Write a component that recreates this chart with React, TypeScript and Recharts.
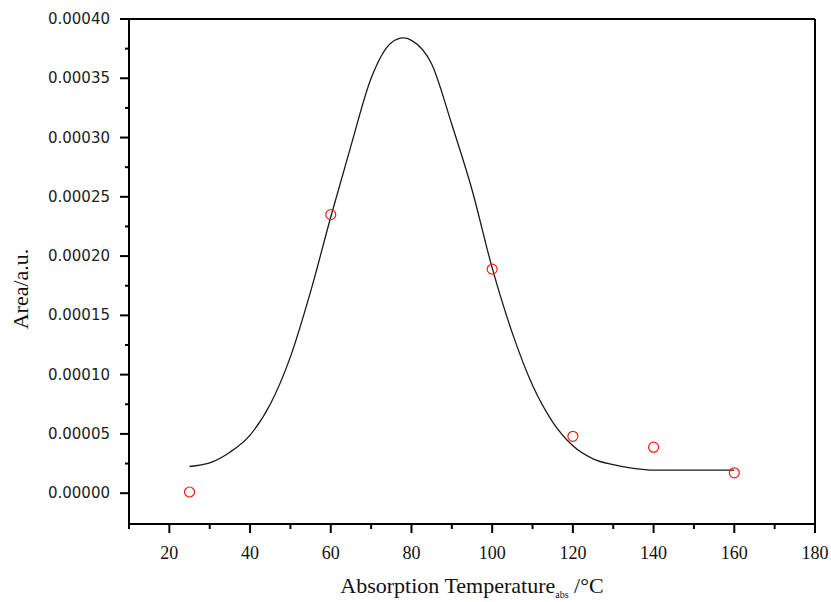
import { ComposedChart, Line, Scatter, XAxis, YAxis, ReferenceLine } from "recharts";

// fitted curve
const curveTemp = [25, 30, 35, 40, 45, 50, 55, 60, 65, 70, 75, 78, 80, 85, 90, 95, 100, 105, 110, 115, 120, 125, 130, 135, 140, 150, 160];
const curveArea = [
  0.0000225, 0.0000255, 0.0000345, 0.000049, 0.000075, 0.000115, 0.00017, 0.000233, 0.000293, 0.00035, 0.00038,
  0.000384, 0.000382, 0.000362, 0.000311, 0.000256, 0.00019, 0.000135, 0.000091, 0.00006, 0.00004, 0.000029,
  0.000024, 0.000021, 0.0000195, 0.0000195, 0.0000195,
];

// measured points
const pointTemp = [25, 60, 100, 120, 140, 160];
const pointArea = [0.000001, 0.000235, 0.000189, 0.000048, 0.0000388, 0.0000172];

const xTicks = [10, 20, 30, 40, 50, 60, 70, 80, 90, 100, 110, 120, 130, 140, 150, 160, 170, 180];
const yTicks = [
  0, 0.000025, 0.00005, 0.000075, 0.0001, 0.000125, 0.00015, 0.000175, 0.0002, 0.000225, 0.00025, 0.000275,
  0.0003, 0.000325, 0.00035, 0.000375, 0.0004,
];

const curve = curveTemp.map((t, i) => ({ x: t, y: curveArea[i] }));
const points = pointTemp.map((t, i) => ({ x: t, y: pointArea[i] }));

const serif = "'Liberation Serif', 'Times New Roman', serif";
const sans = "'DejaVu Sans', Tahoma, sans-serif";

function XTick(props: any) {
  const { x, y, payload } = props;
  const major = payload.value % 20 === 0;
  return (
    <g>
      <line x1={x} y1={y} x2={x} y2={y + (major ? 9 : 5)} stroke="#000" strokeWidth={2} />
      {major && (
        <text x={x} y={y + 35} textAnchor="middle" fontFamily={serif} fontSize={18} fill="#111">
          {payload.value}
        </text>
      )}
    </g>
  );
}

function YTick(props: any) {
  const { x, y, payload } = props;
  const major = Math.round(payload.value / 0.000025) % 2 === 0;
  return (
    <g>
      <line x1={x - (major ? 9 : 4)} y1={y} x2={x} y2={y} stroke="#000" strokeWidth={2} />
      {major && (
        <text x={x - 19} y={y + 5} textAnchor="end" fontFamily={sans} fontSize={15} fill="#222">
          {payload.value.toFixed(5)}
        </text>
      )}
    </g>
  );
}

function RingDot(props: any) {
  const { cx, cy } = props;
  return <circle cx={cx} cy={cy} r={5} fill="none" stroke="#ff1a1a" strokeWidth={1.2} />;
}

function XLabel(props: any) {
  const { viewBox } = props;
  const cx = viewBox.x + viewBox.width / 2;
  return (
    <text x={cx} y={593} textAnchor="middle" fontFamily={serif} fontSize={22} fill="#111">
      Absorption Temperature
      <tspan fontSize={10} dy={5}>abs</tspan>
      <tspan dy={-5}> /°C</tspan>
    </text>
  );
}

function YLabel() {
  return (
    <text
      x={28}
      y={289}
      transform="rotate(-90 28 289)"
      textAnchor="middle"
      fontFamily={serif}
      fontSize={22}
      fill="#111"
    >
      Area/a.u.
    </text>
  );
}

export default function App() {
  return (
    <div style={{ width: 831, height: 602, background: "#fff" }}>
      <style>{`body{margin:0;}`}</style>
      <ComposedChart width={831} height={602} margin={{ top: 19, right: 16, left: 0, bottom: 0 }}>
        <XAxis
          type="number"
          dataKey="x"
          domain={[10, 180]}
          ticks={xTicks}
          interval={0}
          tickSize={0}
          tickMargin={0}
          tick={<XTick />}
          height={78}
          axisLine={{ stroke: "#000", strokeWidth: 2 }}
          allowDataOverflow
          label={<XLabel />}
        />
        <YAxis
          type="number"
          dataKey="y"
          domain={[-0.000026, 0.0004]}
          ticks={yTicks}
          interval={0}
          tickSize={0}
          tickMargin={0}
          tick={<YTick />}
          width={129}
          axisLine={{ stroke: "#000", strokeWidth: 2 }}
          allowDataOverflow
          label={<YLabel />}
        />
        <ReferenceLine y={0.0004} stroke="#000" strokeWidth={2} />
        <ReferenceLine x={180} stroke="#000" strokeWidth={2} />
        <Line
          data={curve}
          dataKey="y"
          type="monotone"
          stroke="#1a1a1a"
          strokeWidth={1.3}
          dot={false}
          activeDot={false}
          isAnimationActive={false}
        />
        <Scatter data={points} dataKey="y" shape={<RingDot />} isAnimationActive={false} />
      </ComposedChart>
    </div>
  );
}
